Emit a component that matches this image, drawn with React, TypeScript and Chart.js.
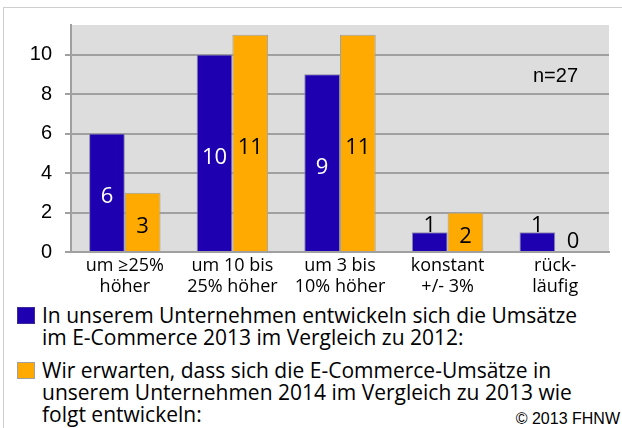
import React, { useEffect, useRef } from "react";
import { Chart, registerables } from "chart.js";

Chart.register(...registerables);

const categories: string[][] = [
  ["um ≥25%", "höher"],
  ["um 10 bis", "25% höher"],
  ["um 3 bis", "10% höher"],
  ["konstant", "+/- 3%"],
  ["rück-", "läufig"],
];
const series2013: number[] = [6, 10, 9, 1, 1];
const series2014: number[] = [3, 11, 11, 2, 0];
const yTicks: number[] = [0, 2, 4, 6, 8, 10];
const legend2013: string[] = [
  "In unserem Unternehmen entwickeln sich die Umsätze",
  "im E-Commerce 2013 im Vergleich zu 2012:",
];
const legend2014: string[] = [
  "Wir erwarten, dass sich die E-Commerce-Umsätze in",
  "unserem Unternehmen 2014 im Vergleich zu 2013 wie",
  "folgt entwickeln:",
];
const sampleNote = "n=27";
const copyright = "© 2013 FHNW";

const BLUE = "#1f00b0";
const ORANGE = "#ffaa00";
const LABEL_FONT = "'Open Sans', 'DejaVu Sans', sans-serif";
const AXIS_FONT = "'Liberation Sans', Arial, sans-serif";

const bgPlugin = {
  id: "plotBg",
  beforeDraw(chart: any) {
    const { ctx, chartArea } = chart;
    ctx.save();
    ctx.fillStyle = "#dddddd";
    ctx.fillRect(chartArea.left, chartArea.top, chartArea.right - chartArea.left, chartArea.bottom - chartArea.top);
    ctx.restore();
  },
};

const labelPlugin = {
  id: "valueLabels",
  afterDatasetsDraw(chart: any) {
    const { ctx, chartArea } = chart;
    ctx.save();
    ctx.font = `22px ${LABEL_FONT}`;
    ctx.textAlign = "center";
    ctx.textBaseline = "alphabetic";
    chart.data.datasets.forEach((ds: any, di: number) => {
      const meta = chart.getDatasetMeta(di);
      meta.data.forEach((el: any, i: number) => {
        const v = ds.data[i] as number;
        const { x, y, base } = el.getProps(["x", "y", "base"], true);
        if (v >= 2) {
          ctx.fillStyle = di === 0 ? "#ffffff" : "#000000";
          ctx.fillText(String(v), x, (y + base) / 2 + 11);
        } else {
          ctx.fillStyle = "#000000";
          ctx.fillText(String(v), x, y - (v === 0 ? 4 : 0));
        }
      });
    });
    ctx.font = `20px ${AXIS_FONT}`;
    ctx.textAlign = "left";
    ctx.textBaseline = "middle";
    ctx.fillStyle = "#000000";
    ctx.fillText(sampleNote, chartArea.right - 76, chartArea.top + 51);
    ctx.restore();
  },
};

function LegendItem({ color, lines, top }: { color: string; lines: string[]; top: number }) {
  return (
    <div style={{ position: "absolute", left: 17, top, display: "flex", alignItems: "flex-start" }}>
      <div
        style={{
          width: 18,
          height: 17,
          marginTop: 3,
          background: color,
          boxSizing: "border-box",
          border: color === ORANGE ? "1px solid #a0a0a0" : "1px solid #3a2a9a",
          flex: "0 0 auto",
        }}
      />
      <div style={{ marginLeft: 7, font: `21px ${LABEL_FONT}`, lineHeight: "22px", whiteSpace: "nowrap", color: "#000" }}>
        {lines.map((l, i) => (
          <div key={i}>{l}</div>
        ))}
      </div>
    </div>
  );
}

export default function App() {
  const canvasRef = useRef<HTMLCanvasElement | null>(null);

  useEffect(() => {
    if (!canvasRef.current) return;
    const chart = new Chart(canvasRef.current, {
      type: "bar",
      data: {
        labels: categories,
        datasets: [
          {
            label: legend2013.join(" "),
            data: series2013,
            backgroundColor: BLUE,
            borderColor: "#8a8aa8",
            borderWidth: 1,
            categoryPercentage: 0.664,
            barPercentage: 1,
          },
          {
            label: legend2014.join(" "),
            data: series2014,
            backgroundColor: ORANGE,
            borderColor: "#a0a0a0",
            borderWidth: 1,
            categoryPercentage: 0.664,
            barPercentage: 1,
          },
        ],
      },
      options: {
        animation: false,
        responsive: false,
        maintainAspectRatio: false,
        layout: { padding: { left: 0, right: 13, top: 21, bottom: 0 } },
        plugins: {
          legend: { display: false },
          tooltip: { enabled: false },
        },
        scales: {
          x: {
            grid: { display: false, drawTicks: false },
            border: { display: true, color: "#a0a0a0", width: 2 },
            ticks: {
              color: "#000",
              font: { family: LABEL_FONT, size: 18, lineHeight: 21 / 18 } as any,
              padding: 3,
              maxRotation: 0,
              autoSkip: false,
            },
            afterFit(scale: any) {
              scale.height = 48;
            },
          },
          y: {
            min: 0,
            max: 11.5,
            grid: { color: "#a0a0a0", lineWidth: 2, tickLength: 6, drawTicks: true },
            border: { display: true, color: "#a0a0a0", width: 2 },
            ticks: {
              stepSize: 2,
              includeBounds: false,
              color: "#000",
              padding: 13,
              font: { family: AXIS_FONT, size: 20 },
              callback: (v: any) => (yTicks.includes(Number(v)) ? String(v) : ""),
            },
            afterFit(scale: any) {
              scale.width = 71;
            },
          },
        },
      },
      plugins: [bgPlugin, labelPlugin],
    });
    return () => chart.destroy();
  }, []);

  return (
    <div style={{ position: "fixed", left: 0, top: 0, width: 622, height: 428, overflow: "hidden", background: "#fff" }}>
      <div
        style={{
          position: "absolute",
          left: 3,
          top: 7,
          right: 0,
          bottom: 0,
          borderTop: "1px solid #cfcfcf",
          borderLeft: "1px solid #cfcfcf",
        }}
      />
      <canvas ref={canvasRef} width={622} height={300} style={{ position: "absolute", left: 0, top: 0, width: 622, height: 300 }} />
      <LegendItem color={BLUE} lines={legend2013} top={304} />
      <LegendItem color={ORANGE} lines={legend2014} top={359} />
      <div
        style={{
          position: "absolute",
          right: 2,
          top: 411,
          font: `16px ${AXIS_FONT}`,
          lineHeight: "16px",
          color: "#000",
          whiteSpace: "nowrap",
        }}
      >
        {copyright}
      </div>
    </div>
  );
}
